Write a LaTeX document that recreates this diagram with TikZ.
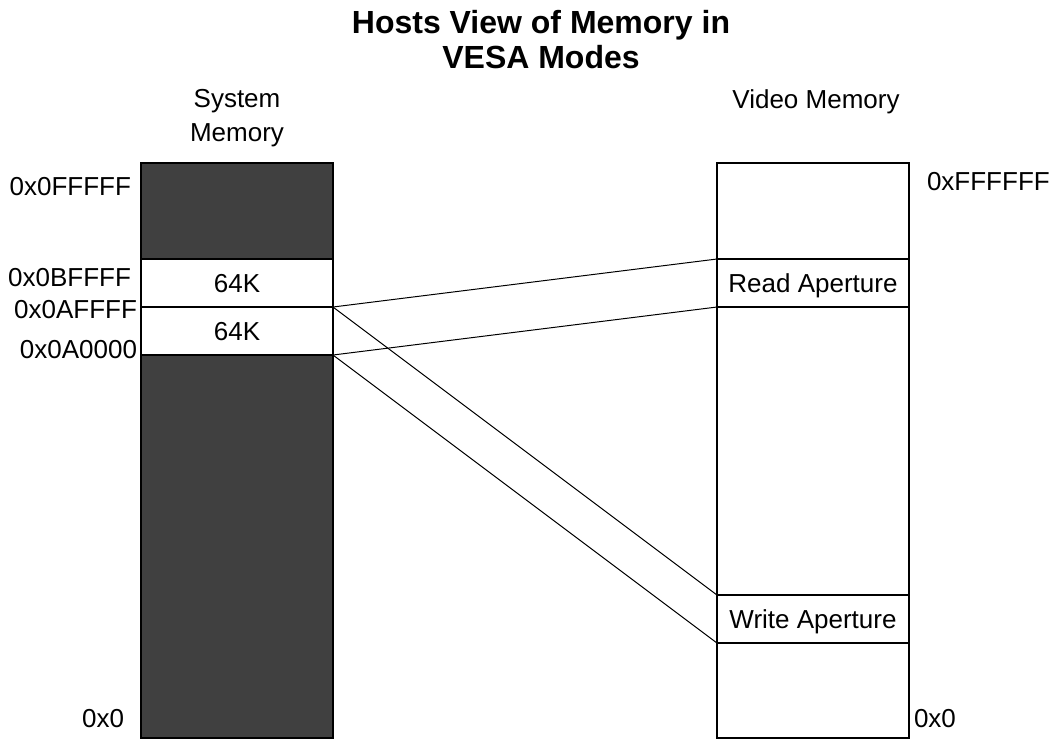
\documentclass[tikz,border=0pt]{standalone}
\usepackage{fontspec}
\setmainfont{Liberation Sans}
\definecolor{memdark}{HTML}{404040}
\begin{document}
\begin{tikzpicture}[x=0.75pt,y=-0.75pt,
  seg/.style={draw=black, line width=0.9pt, inner sep=0pt, outer sep=0pt, anchor=north west,
    minimum width=144pt, fill=white, font=\fontsize{19.5}{22}\selectfont, text height=14pt, text depth=0pt},
  dark/.style={seg, fill=memdark},
  lbl/.style={inner sep=0pt, outer sep=0pt, font=\fontsize{19.5}{22}\selectfont},
  link/.style={draw=black, line width=0.75pt}]
\useasboundingbox (0,0) rectangle (1058,740);

% title
\node[inner sep=0pt, align=center, font=\fontsize{24}{26.25}\selectfont\bfseries] (title) at (541,40)
  {Hosts View of Memory in\\VESA Modes};

% column headers
\node[inner sep=0pt, align=center, font=\fontsize{19.5}{25.5}\selectfont] (syshead) at (237,118) {System\\Memory};
\node[lbl, anchor=base] (vidhead) at (816,108) {Video Memory};

% system memory column
\node[dark, minimum height=72pt] (sysTop) at (141,163) {};
\node[seg, minimum height=36pt] (kA) at (141,259) {64K};
\node[seg, minimum height=36pt] (kB) at (141,307) {64K};
\node[dark, minimum height=287.25pt] (sysBot) at (141,355) {};

% video memory column
\node[seg, minimum height=72pt] (vidTop) at (717,163) {};
\node[seg, minimum height=36pt] (read) at (717,259) {Read Aperture};
\node[seg, minimum height=216pt] (vidMid) at (717,307) {};
\node[seg, minimum height=36pt] (write) at (717,595) {Write Aperture};
\node[seg, minimum height=71.25pt] (vidBot) at (717,643) {};

% address labels
\node[lbl, anchor=base east] (a1) at (131,195) {0x0FFFFF};
\node[lbl, anchor=base east] (a2) at (131,286) {0x0BFFFF};
\node[lbl, anchor=base east] (a3) at (137,318) {0x0AFFFF};
\node[lbl, anchor=base east] (a4) at (137,358) {0x0A0000};
\node[lbl, anchor=base east] (a5) at (124,727) {0x0};
\node[lbl, anchor=base west] (b1) at (927,190) {0xFFFFFF};
\node[lbl, anchor=base west] (b2) at (914,727) {0x0};

% mapping lines
\draw[link] (kB.north east) -- (read.north west);
\draw[link] (kB.south east) -- (read.south west);
\draw[link] (kB.north east) -- (write.north west);
\draw[link] (kB.south east) -- (write.south west);
\end{tikzpicture}
\end{document}
